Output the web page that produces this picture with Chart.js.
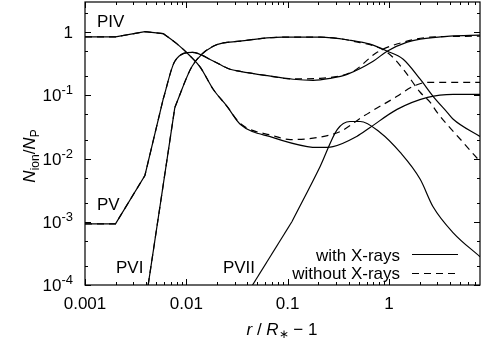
<!DOCTYPE html>
<html>
<head>
<meta charset="utf-8">
<script src="https://cdn.jsdelivr.net/npm/chart.js@4"></script>
<style>
  html, body { margin: 0; padding: 0; background: #fff; }
  canvas { display: block; }
</style>
</head>
<body>
<canvas id="ionChart" width="481" height="343"></canvas>
<script>
// r / R* - 1 (x) and N_ion / N_P (y)
const pivWithR = [0.001, 0.002, 0.0039, 0.0059, 0.0082, 0.0109, 0.0137, 0.0184, 0.0252, 0.034, 0.072, 0.156, 0.2, 0.28, 0.48, 0.65, 1.2, 2.4, 4.3, 7.9];
const pivWithN = [0.84, 0.84, 1.02, 0.95, 0.64, 0.42, 0.28, 0.125, 0.067, 0.035, 0.0215, 0.0155, 0.015, 0.0155, 0.0224, 0.031, 0.06, 0.093, 0.104, 0.104];
const pivNoR = [0.001, 0.002, 0.0039, 0.0059, 0.0082, 0.0109, 0.0137, 0.0184, 0.0252, 0.034, 0.072, 0.106, 0.195, 0.33, 0.555, 1.2, 1.73, 2.4, 7.9];
const pivNoN = [0.84, 0.84, 1.02, 0.95, 0.64, 0.42, 0.28, 0.125, 0.067, 0.036, 0.023, 0.02, 0.0215, 0.0268, 0.0465, 0.0965, 0.139, 0.161, 0.161];

const pvWithR = [0.001, 0.002, 0.0039, 0.0059, 0.0077, 0.0114, 0.0184, 0.027, 0.034, 0.06, 0.113, 0.178, 0.262, 0.386, 0.697, 0.958, 1.51, 2.03, 4.0, 7.9];
const pvWithN = [0.00093, 0.00093, 0.0054, 0.0865, 0.346, 0.48, 0.35, 0.259, 0.24, 0.207, 0.18, 0.173, 0.186, 0.215, 0.346, 0.5, 0.694, 0.774, 0.864, 0.896];
const pvNoR = [0.001, 0.002, 0.0039, 0.0059, 0.0077, 0.0114, 0.0184, 0.027, 0.034, 0.06, 0.113, 0.209, 0.442, 0.763, 1.38, 2.55, 7.9];
const pvNoN = [0.00093, 0.00093, 0.0054, 0.0865, 0.346, 0.48, 0.35, 0.259, 0.24, 0.207, 0.182, 0.186, 0.24, 0.48, 0.694, 0.833, 0.864];

const pviWithR = [0.0042, 0.00645, 0.0077, 0.0114, 0.0184, 0.034, 0.09, 0.21, 0.42, 0.65, 0.96, 1.38, 2.03, 2.72, 3.75, 4.3, 7.9];
const pviWithN = [0.0001, 0.0097, 0.0645, 0.289, 0.6, 0.72, 0.833, 0.833, 0.74, 0.645, 0.5, 0.373, 0.18, 0.0965, 0.054, 0.042, 0.0224];
const pviNoR = [0.0042, 0.00645, 0.0077, 0.0114, 0.0184, 0.034, 0.09, 0.21, 0.442, 0.958, 1.38, 2.03, 2.55, 2.98, 5.39, 7.9];
const pviNoN = [0.0001, 0.0097, 0.0645, 0.289, 0.6, 0.72, 0.833, 0.833, 0.72, 0.48, 0.259, 0.112, 0.0775, 0.0537, 0.018, 0.009];

const pviiWithR = [0.045, 0.11, 0.209, 0.308, 0.413, 0.519, 0.817, 1.29, 2.03, 2.72, 4.3, 7.9];
const pviiWithN = [0.0001, 0.001, 0.0075, 0.0288, 0.0386, 0.0386, 0.0259, 0.0125, 0.0047, 0.00173, 0.00067, 0.00028];

// axis ticks
const xMajorTicks = [0.001, 0.01, 0.1, 1];
const xTickLabels = ["0.001", "0.01", "0.1", "1"];
const yMajorTicks = [1e-4, 1e-3, 1e-2, 1e-1, 1];
const yTickExponents = [-4, -3, -2, -1, 0];

const FONT = '"Liberation Sans", Arial, Helvetica, sans-serif';

function pts(rs, ns) {
  return rs.map((r, i) => ({ x: r, y: ns[i] }));
}

// one curve = straight-segment head (coarse inner grid) + smooth tail
function curve(label, rs, ns, dashed, kink) {
  const style = {
    borderColor: "#000",
    borderWidth: 1.2,
    borderDash: dashed ? [7, 5] : [],
    pointRadius: 0,
    fill: false,
  };
  return [
    Object.assign({ label: label, data: pts(rs.slice(0, kink + 1), ns.slice(0, kink + 1)), tension: 0 }, style),
    Object.assign({ label: label, data: pts(rs.slice(kink), ns.slice(kink)), cubicInterpolationMode: "monotone" }, style),
  ];
}

// draw a row of text pieces with different fonts / offsets
function drawRuns(ctx, runs, x, y, align) {
  let total = 0;
  runs.forEach((r) => {
    ctx.font = r.font;
    r.w = ctx.measureText(r.text).width;
    total += r.w;
  });
  let cx = x;
  if (align === "right") cx = x - total;
  if (align === "center") cx = x - total / 2;
  ctx.textAlign = "left";
  ctx.textBaseline = "alphabetic";
  runs.forEach((r) => {
    ctx.font = r.font;
    ctx.fillText(r.text, cx, y + (r.dy || 0));
    cx += r.w;
  });
}

const frameAndText = {
  id: "frameAndText",
  afterDraw(chart) {
    const ctx = chart.ctx;
    const a = chart.chartArea;
    const xs = chart.scales.x;
    const ys = chart.scales.y;
    const big = "17px " + FONT;
    const small = "12px " + FONT;
    ctx.save();
    ctx.strokeStyle = "#000";
    ctx.fillStyle = "#000";
    ctx.lineWidth = 1.2;
    ctx.strokeRect(a.left, a.top, a.right - a.left, a.bottom - a.top);

    ctx.lineWidth = 1;
    ctx.beginPath();
    // x ticks, inward on bottom and top
    xMajorTicks.forEach((d) => {
      for (let m = 1; m <= 9; m++) {
        const v = d * m;
        if (v > xs.max) break;
        const px = Math.round(xs.getPixelForValue(v)) + 0.5;
        const len = m === 1 ? 6 : 3;
        ctx.moveTo(px, a.bottom);
        ctx.lineTo(px, a.bottom - len);
        ctx.moveTo(px, a.top);
        ctx.lineTo(px, a.top + len);
      }
    });
    // y ticks, inward on left and right (minor at 2 and 5)
    yMajorTicks.forEach((d) => {
      [1, 2, 5].forEach((m) => {
        const v = d * m;
        if (v > ys.max) return;
        const py = Math.round(ys.getPixelForValue(v)) + 0.5;
        const len = m === 1 ? 6 : 3;
        ctx.moveTo(a.left, py);
        ctx.lineTo(a.left + len, py);
        ctx.moveTo(a.right, py);
        ctx.lineTo(a.right - len, py);
      });
    });
    ctx.stroke();

    // x tick labels
    ctx.font = big;
    ctx.textAlign = "center";
    ctx.textBaseline = "alphabetic";
    xMajorTicks.forEach((v, i) => {
      ctx.fillText(xTickLabels[i], xs.getPixelForValue(v), 309);
    });

    // y tick labels
    yMajorTicks.forEach((v, i) => {
      const py = ys.getPixelForValue(v) + 6;
      if (yTickExponents[i] === 0) {
        drawRuns(ctx, [{ text: "1", font: big }], 73, py, "right");
      } else {
        drawRuns(ctx, [
          { text: "10", font: big },
          { text: String(yTickExponents[i]), font: "13px " + FONT, dy: -7 },
        ], 73, py, "right");
      }
    });

    // axis titles
    const ital = "italic 17px " + FONT;
    drawRuns(ctx, [
      { text: "r", font: ital },
      { text: " / ", font: big },
      { text: "R", font: ital },
      { text: "\u2217", font: small, dy: 3 },
      { text: " \u2212 1", font: big },
    ], 282, 335, "center");

    ctx.save();
    ctx.translate(35, 156);
    ctx.rotate(-Math.PI / 2);
    drawRuns(ctx, [
      { text: "N", font: ital },
      { text: "ion", font: small, dy: 4 },
      { text: "/", font: big },
      { text: "N", font: ital },
      { text: "P", font: small, dy: 4 },
    ], 0, 0, "center");
    ctx.restore();

    // ion labels
    ctx.font = big;
    ctx.textAlign = "left";
    ctx.fillText("PIV", 97, 27);
    ctx.fillText("PV", 97, 210);
    ctx.fillText("PVI", 116, 273);
    ctx.textAlign = "right";
    ctx.fillText("PVII", 255, 273);

    // legend
    ctx.fillText("with X-rays", 400, 261);
    ctx.fillText("without X-rays", 400, 279);
    ctx.lineWidth = 1.2;
    ctx.beginPath();
    ctx.moveTo(412, 254.5);
    ctx.lineTo(458, 254.5);
    ctx.stroke();
    ctx.setLineDash([7, 5]);
    ctx.beginPath();
    ctx.moveTo(412, 273.5);
    ctx.lineTo(458, 273.5);
    ctx.stroke();
    ctx.restore();
  },
};

new Chart(document.getElementById("ionChart").getContext("2d"), {
  type: "line",
  data: {
    datasets: [].concat(
      curve("PIV with X-rays", pivWithR, pivWithN, false, 3),
      curve("PIV without X-rays", pivNoR, pivNoN, true, 3),
      curve("PV with X-rays", pvWithR, pvWithN, false, 3),
      curve("PV without X-rays", pvNoR, pvNoN, true, 3),
      curve("PVI with X-rays", pviWithR, pviWithN, false, 2),
      curve("PVI without X-rays", pviNoR, pviNoN, true, 2),
      curve("PVII with X-rays", pviiWithR, pviiWithN, false, 1)
    ),
  },
  options: {
    responsive: false,
    animation: false,
    devicePixelRatio: 1,
    layout: { padding: { left: 85, right: 1, top: 2, bottom: 58 } },
    scales: {
      x: { type: "logarithmic", min: 0.001, max: 7.9, display: false },
      y: { type: "logarithmic", min: 1e-4, max: 3, display: false },
    },
    plugins: {
      legend: { display: false },
      tooltip: { enabled: false },
    },
  },
  plugins: [frameAndText],
});
</script>
</body>
</html>
